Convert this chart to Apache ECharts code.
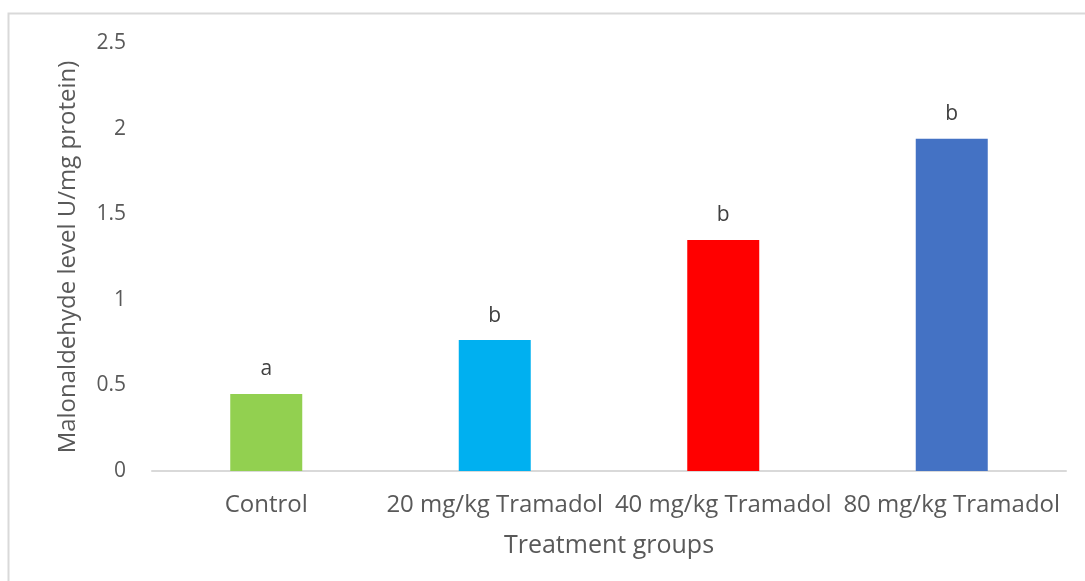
<!DOCTYPE html>
<html>
<head>
<meta charset="utf-8">
<script src="https://cdn.jsdelivr.net/npm/echarts@6/dist/echarts.min.js"></script>
<style>html,body{margin:0;padding:0;background:#fff;}#c{width:1085px;height:581px;}</style>
</head>
<body>
<div id="c"></div>
<script>
const categories = ['Control', '20 mg/kg Tramadol', '40 mg/kg Tramadol', '80 mg/kg Tramadol'];
const values = [0.45, 0.765, 1.35, 1.94];
const letters = ['a', 'b', 'b', 'b'];
const barColors = ['#92D050', '#00B0F0', '#FF0000', '#4472C4'];
const yTicks = [0, 0.5, 1, 1.5, 2, 2.5];

const font = 'Open Sans';
const chart = echarts.init(document.getElementById('c'));
chart.setOption({
  animation: false,
  graphic: [{
    type: 'rect',
    shape: { x: 8.5, y: 13.5, width: 1200, height: 700 },
    style: { fill: 'none', stroke: '#D9D9D9', lineWidth: 2 },
    silent: true, z: -1
  }],
  grid: { left: 152, right: 19, top: 43, bottom: 110 },
  xAxis: {
    type: 'category',
    data: categories,
    name: 'Treatment groups',
    nameLocation: 'middle',
    nameGap: 62,
    nameTextStyle: { fontFamily: font, fontSize: 25, color: '#595959' },
    axisLine: { lineStyle: { color: '#D9D9D9', width: 2 } },
    axisTick: { show: false },
    axisLabel: { interval: 0, fontFamily: font, fontSize: 24, color: '#595959', margin: 22 }
  },
  yAxis: {
    type: 'value',
    min: yTicks[0],
    max: yTicks[yTicks.length - 1],
    interval: 0.5,
    name: 'Malonaldehyde level U/mg protein)',
    nameLocation: 'middle',
    nameGap: 72,
    nameTextStyle: { fontFamily: font, fontSize: 24, color: '#595959' },
    axisLine: { show: false },
    axisTick: { show: false },
    splitLine: { show: false },
    axisLabel: { fontFamily: font, fontSize: 21, color: '#595959', margin: 26 }
  },
  series: [{
    type: 'bar',
    barWidth: 72,
    data: values.map((v, i) => ({ value: v, itemStyle: { color: barColors[i] } })),
    label: {
      show: true,
      position: 'top',
      distance: 14,
      fontFamily: font,
      fontSize: 21,
      color: '#404040',
      formatter: p => letters[p.dataIndex]
    }
  }]
});
</script>
</body>
</html>
